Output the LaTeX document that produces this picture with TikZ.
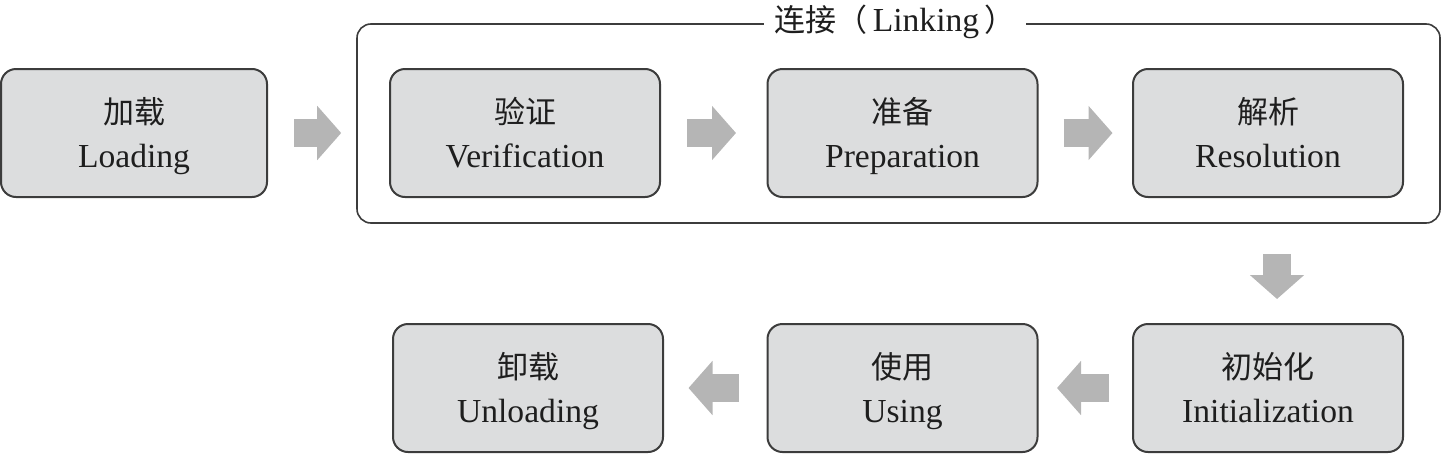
\documentclass[tikz,border=0pt]{standalone}
\usepackage{fontspec}
\setmainfont{Liberation Serif}
\newfontfamily\cjk{Noto Sans CJK SC}
\usetikzlibrary{arrows.meta}
\definecolor{boxfill}{HTML}{DCDDDE}
\definecolor{boxline}{HTML}{3C3C3C}
\definecolor{arrowgray}{HTML}{B5B5B5}
\definecolor{txt}{HTML}{1E1E1E}
\newcommand{\zh}[1]{{\cjk\fontsize{15.5}{20}\selectfont #1}}
\newcommand{\stage}[2]{\zh{#1}\rule{0pt}{19.4pt}\\#2\rule[-6.6pt]{0pt}{1pt}}
\tikzset{
  stagebox/.style={draw=boxline, line width=1pt, fill=boxfill, rounded corners=7.5pt,
    minimum width=135pt, minimum height=64pt, align=center, text=txt,
    font=\fontsize{16.8}{22}\selectfont, inner sep=0pt},
  bigarrow/.style={draw=arrowgray, line width=14pt,
    -{Triangle[width=26.5pt,length=12pt,fill=arrowgray]}},
  linkframe/.style={draw=boxline, line width=0.8pt, rounded corners=7pt,
    minimum width=541.5pt, minimum height=99.5pt, inner sep=0pt},
  linklabel/.style={fill=white, text=txt, inner sep=5pt,
    font=\fontsize{16.8}{20}\selectfont}
}
\begin{document}
\begin{tikzpicture}[x=0.5pt,y=-0.5pt]
\useasboundingbox (0,0) rectangle (1449,461);
% linking frame
\node[linkframe] (link) at (898.5,123.5) {};
\node[linklabel] (linklab) at (895,22) {\zh{连接（}\,Linking\,\zh{）}};
% boxes
\node[stagebox, minimum width=133pt] (load) at (134,133) {\stage{加载}{Loading}};
\node[stagebox] (verif) at (525,133) {\stage{验证}{Verification}};
\node[stagebox] (prep) at (902.5,133) {\stage{准备}{Preparation}};
\node[stagebox] (resol) at (1268,133) {\stage{解析}{Resolution}};
\node[stagebox] (init) at (1268,388) {\stage{初始化}{Initialization}};
\node[stagebox] (using) at (902.5,388) {\stage{使用}{Using}};
\node[stagebox] (unload) at (528,388) {\stage{卸载}{Unloading}};
% arrows
\draw[bigarrow] ([xshift=13pt]load.east) -- ([xshift=-7.5pt]link.west |- load.east);
\draw[bigarrow] ([xshift=13pt]verif.east) -- ++(24.5pt,0);
\draw[bigarrow] ([xshift=12.5pt]prep.east) -- ++(24.5pt,0);
\draw[bigarrow] ([xshift=4.5pt,yshift=-15pt]link.south -| init.north) -- ([xshift=4.5pt,yshift=12pt]init.north);
\draw[bigarrow] ([xshift=-11.5pt]init.west) -- ++(-26pt,0);
\draw[bigarrow] ([xshift=-14pt]using.west) -- ++(-25pt,0);
\end{tikzpicture}
\end{document}
